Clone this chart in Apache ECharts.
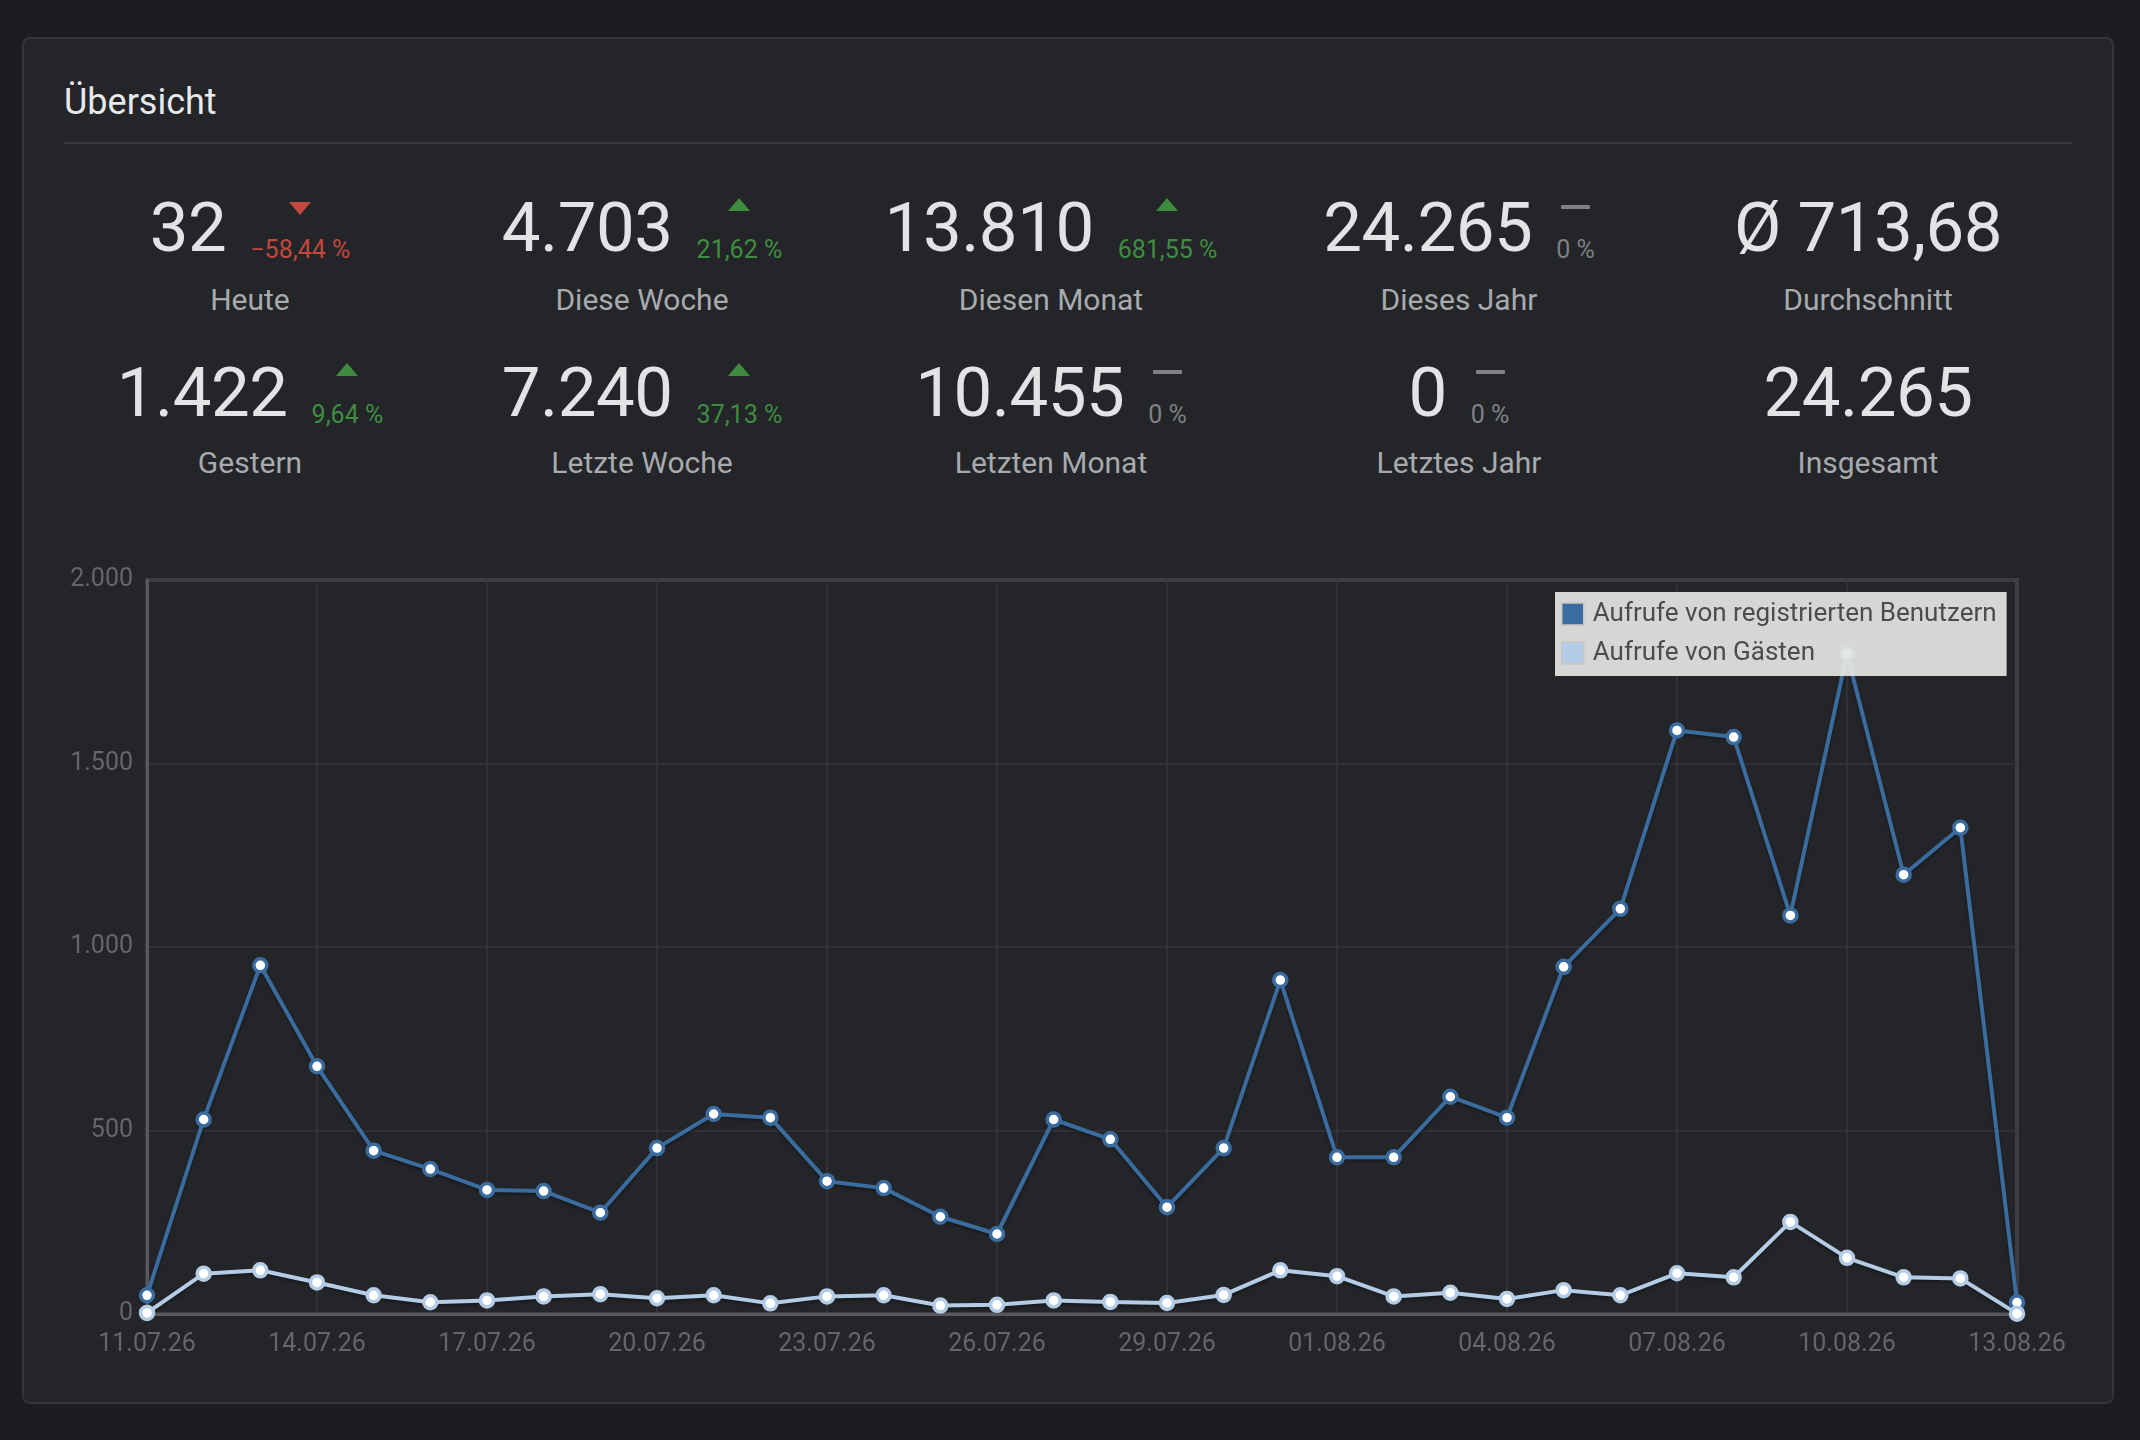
<!DOCTYPE html>
<html>
<head>
<meta charset="utf-8">
<script src="https://cdn.jsdelivr.net/npm/echarts@6/dist/echarts.min.js"></script>
<style>
  html, body { margin:0; padding:0; width:2140px; height:1440px; background:#1b1d21; overflow:hidden; font-family: Roboto, 'Noto Sans', sans-serif; }
  #card { position:absolute; left:22px; top:37px; width:2088px; height:1363px; background:#232529; border:2px solid #323439; border-radius:8px; }
  #title { position:absolute; left:64px; top:80px; font-size:36px; line-height:44px; color:#e8e9eb; }
  #sep { position:absolute; left:64px; top:142px; width:2008px; height:2px; background:#393b40; }
  .stat { position:absolute; width:600px; }
  .row { display:flex; justify-content:center; align-items:baseline; height:80px; }
  .num { font-size:69px; line-height:80px; color:#e2e3e5; white-space:nowrap; letter-spacing:-0.5px; }
  .ind { font-size:25px; line-height:25px; position:relative; top:7px; margin-left:24px; white-space:nowrap; }
  .up { color:#3f8d40; } .down { color:#c3463f; } .flat { color:#7f8185; }
  .arrow-up { position:absolute; left:50%; margin-left:-11.5px; top:-39px; width:0; height:0; border-left:11.5px solid transparent; border-right:11.5px solid transparent; border-bottom:13px solid #3e8b3e; }
  .arrow-down { position:absolute; left:50%; margin-left:-11.5px; top:-35px; width:0; height:0; border-left:11.5px solid transparent; border-right:11.5px solid transparent; border-top:13px solid #c3463f; }
  .dash { position:absolute; left:50%; margin-left:-14.5px; top:-32px; width:29px; height:4px; background:#7f8185; border-radius:1px; }
  .label { position:absolute; left:0; width:600px; text-align:center; font-size:30px; line-height:40px; color:#a8aaad; }
  #chart { position:absolute; left:0; top:0; width:2140px; height:1440px; }
</style>
</head>
<body>
<div id="card"></div>
<div id="title">Übersicht</div>
<div id="sep"></div>
<div id="stats"></div>
<div id="chart"></div>
<script>
// ---------- data ----------
const dates = ['11.07.26','12.07.26','13.07.26','14.07.26','15.07.26','16.07.26','17.07.26','18.07.26','19.07.26','20.07.26',
               '21.07.26','22.07.26','23.07.26','24.07.26','25.07.26','26.07.26','27.07.26','28.07.26','29.07.26','30.07.26',
               '31.07.26','01.08.26','02.08.26','03.08.26','04.08.26','05.08.26','06.08.26','07.08.26','08.08.26','09.08.26',
               '10.08.26','11.08.26','12.08.26','13.08.26'];
const registered = [51,530,950,675,445,395,338,335,276,452,545,535,362,343,265,218,530,476,291,452,910,
                    427,427,592,535,946,1104,1590,1572,1086,1799,1197,1325,31];
const guests = [3,110,119,86,51,32,37,48,54,43,51,29,48,51,23,25,37,33,30,52,119,
                103,48,58,41,65,51,111,100,251,153,100,97,1];
const seriesNames = ['Aufrufe von registrierten Benutzern','Aufrufe von Gästen'];
const yTickLabels = ['0','500','1.000','1.500','2.000'];

const statLabels1 = ['Heute','Diese Woche','Diesen Monat','Dieses Jahr','Durchschnitt'];
const statValues1 = ['32','4.703','13.810','24.265','Ø 713,68'];
const statChange1 = ['−58,44 %','21,62 %','681,55 %','0 %',null];
const statTrend1  = ['down','up','up','flat',null];
const statLabels2 = ['Gestern','Letzte Woche','Letzten Monat','Letztes Jahr','Insgesamt'];
const statValues2 = ['1.422','7.240','10.455','0','24.265'];
const statChange2 = ['9,64 %','37,13 %','0 %','0 %',null];
const statTrend2  = ['up','up','flat','flat',null];

// ---------- stats (HTML) ----------
const colCenters = [250, 642, 1051, 1459, 1868];
function makeStat(cx, top, labelOffset, value, change, trend, label) {
  const wrap = document.createElement('div');
  wrap.className = 'stat';
  wrap.style.left = (cx - 300) + 'px';
  wrap.style.top = top + 'px';
  const row = document.createElement('div');
  row.className = 'row';
  const num = document.createElement('span');
  num.className = 'num';
  num.textContent = value;
  row.appendChild(num);
  if (change !== null) {
    const ind = document.createElement('span');
    ind.className = 'ind ' + trend;
    ind.textContent = change;
    const mark = document.createElement('span');
    mark.className = trend === 'up' ? 'arrow-up' : (trend === 'down' ? 'arrow-down' : 'dash');
    ind.appendChild(mark);
    row.appendChild(ind);
  }
  wrap.appendChild(row);
  const lab = document.createElement('div');
  lab.className = 'label';
  lab.style.top = labelOffset + 'px';
  lab.textContent = label;
  wrap.appendChild(lab);
  document.getElementById('stats').appendChild(wrap);
}
for (let i = 0; i < 5; i++) {
  makeStat(colCenters[i], 188, 92, statValues1[i], statChange1[i], statTrend1[i], statLabels1[i]);
  makeStat(colCenters[i], 353, 90, statValues2[i], statChange2[i], statTrend2[i], statLabels2[i]);
}

// ---------- chart ----------
const colReg = '#3a6c9f';
const colGuest = '#b4cce5';
const chart = echarts.init(document.getElementById('chart'), null, {renderer:'canvas'});
const labelColor = '#64666a';
const gridColor = '#34363a';
const frameColor = '#58595d';
chart.setOption({
  animation: false,
  backgroundColor: 'transparent',
  textStyle: { fontFamily: 'Roboto' },
  grid: { left: 147, top: 580, width: 1870, height: 734, show: true, borderColor: frameColor, borderWidth: 3, backgroundColor: 'transparent' },
  legend: {
    orient: 'vertical', left: 1555, top: 592,
    backgroundColor: 'rgba(228,229,226,0.93)',
    padding: [7, 10, 8, 6],
    itemGap: 9, itemWidth: 22, itemHeight: 22, icon: 'rect',
    textStyle: { fontSize: 26, color: '#4b4c4d', fontFamily: 'Roboto', lineHeight: 30, padding: [0,0,0,4] },
    selectedMode: false,
    data: [
      { name: seriesNames[0], itemStyle: { color: colReg, borderColor: '#c7c8c6', borderWidth: 1.5 } },
      { name: seriesNames[1], itemStyle: { color: colGuest, borderColor: '#c7c8c6', borderWidth: 1.5 } }
    ]
  },
  xAxis: {
    type: 'category', data: dates, boundaryGap: false,
    axisLine: { show: true, lineStyle: { color: frameColor, width: 3 } },
    axisTick: { show: false },
    axisLabel: { interval: 2, color: labelColor, fontSize: 25, margin: 18, fontFamily: 'Roboto' },
    splitLine: { show: true, interval: 2, lineStyle: { color: gridColor, width: 1.5 } }
  },
  yAxis: {
    type: 'value', min: 0, max: 2000, interval: 500,
    axisLine: { show: true, lineStyle: { color: frameColor, width: 3 } },
    axisTick: { show: false },
    axisLabel: { color: labelColor, fontSize: 25, margin: 14, padding: [9,0,0,0], fontFamily: 'Roboto', formatter: v => yTickLabels[Math.round(v / 500)] },
    splitLine: { show: true, lineStyle: { color: gridColor, width: 1.5 } }
  },
  series: [
    {
      name: seriesNames[0], type: 'line', data: registered,
      symbol: 'circle', symbolSize: 13, showAllSymbol: true,
      itemStyle: { color: '#ffffff', borderColor: colReg, borderWidth: 3.5 },
      lineStyle: { color: colReg, width: 4, shadowColor: 'rgba(0,0,0,0.35)', shadowBlur: 3, shadowOffsetY: 2 },
      emphasis: { disabled: true }
    },
    {
      name: seriesNames[1], type: 'line', data: guests,
      symbol: 'circle', symbolSize: 13, showAllSymbol: true,
      itemStyle: { color: '#ffffff', borderColor: colGuest, borderWidth: 3.5 },
      lineStyle: { color: colGuest, width: 4, shadowColor: 'rgba(0,0,0,0.35)', shadowBlur: 3, shadowOffsetY: 2 },
      emphasis: { disabled: true }
    }
  ]
});
</script>
</body>
</html>
